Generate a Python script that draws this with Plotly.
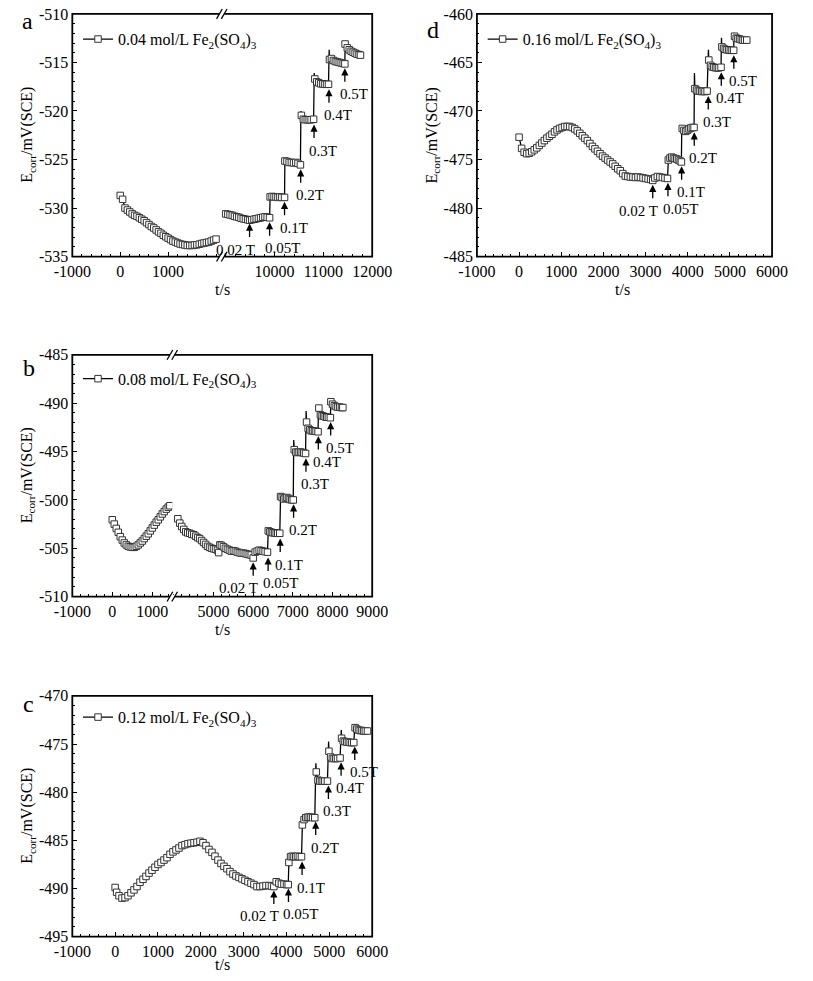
import plotly.graph_objects as go

FONT = "Liberation Serif"
W, H = 813, 981

# ---------------- data ----------------
# Panel a : 0.04 mol/L Fe2(SO4)3  (broken time axis)
t_a1 = [0, 50, 100, 150, 200, 250, 300, 350, 400, 450, 500, 550, 600, 650, 700, 750, 800, 850, 900, 950,
        1000, 1050, 1100, 1150, 1200, 1250, 1300, 1350, 1400, 1450, 1500, 1550, 1600, 1650, 1700, 1750,
        1800, 1850, 1900, 1950, 2000]
e_a1 = [-528.7, -529.1, -530.0, -530.2, -530.4, -530.6, -530.75, -530.85, -531.0, -531.15, -531.3, -531.5,
        -531.7, -531.9, -532.05, -532.25, -532.45, -532.6, -532.8, -532.95, -533.1, -533.25, -533.4, -533.5,
        -533.6, -533.7, -533.75, -533.8, -533.85, -533.85, -533.85, -533.8, -533.78, -533.72, -533.65,
        -533.6, -533.55, -533.5, -533.4, -533.3, -533.2]
t_a2 = [9000, 9045, 9090, 9135, 9180, 9225, 9270, 9315, 9360, 9405, 9450, 9490, 9535, 9580, 9625, 9670,
        9715, 9760, 9805, 9850, 9899,
        9910, 9950, 9990, 10030, 10070, 10110, 10150, 10205,
        10212, 10255, 10300, 10345, 10390, 10435, 10480, 10530,
        10550, 10590, 10630, 10670, 10710, 10750, 10800,
        10825, 10865, 10905, 10945, 10985, 11025, 11065, 11105,
        11125, 11165, 11205, 11245, 11285, 11325, 11365, 11405, 11440,
        11445, 11490, 11530, 11570, 11610, 11650, 11690, 11730, 11760]
e_a2 = [-530.6, -530.65, -530.7, -530.75, -530.85, -530.9, -530.95, -531.05, -531.1, -531.15, -531.2,
        -531.25, -531.2, -531.15, -531.1, -531.05, -531.0, -530.95, -530.9, -530.95, -531.0,
        -528.85, -528.8, -528.85, -528.85, -528.9, -528.85, -528.9, -528.9,
        -525.15, -525.2, -525.3, -525.3, -525.35, -525.3, -525.4, -525.55,
        -520.45, -520.85, -520.9, -520.9, -520.9, -520.9, -520.85,
        -516.7, -517.0, -517.1, -517.2, -517.2, -517.25, -517.25, -517.25,
        -514.7, -514.6, -514.8, -514.9, -514.95, -515.0, -515.05, -515.1, -515.15,
        -513.1, -513.5, -513.7, -513.85, -513.95, -514.05, -514.15, -514.2, -514.25]
spike_t_a = [10540, 10813, 11119]
spike_e_a = [-520.0, -516.1, -513.7]
arrow_t_a = [9489, 9899, 10205, 10536, 10809, 11115, 11440]
arrow_e_a = [-531.6, -531.45, -529.35, -526.0, -521.4, -517.75, -515.6]

# Panel b : 0.08 mol/L Fe2(SO4)3  (broken time axis)
t_b1 = [0, 50, 100, 150, 200, 250, 300, 350, 400, 450, 500, 550, 600, 650, 700, 750, 800, 850, 900, 950,
        1000, 1050, 1100, 1150, 1200, 1250, 1300, 1350, 1400, 1440]
e_b1 = [-502.05, -502.5, -502.95, -503.35, -503.8, -504.15, -504.45, -504.65, -504.8, -504.85, -504.9,
        -504.9, -504.8, -504.65, -504.45, -504.25, -504.0, -503.75, -503.5, -503.2, -502.9, -502.6, -502.3,
        -502.05, -501.75, -501.45, -501.2, -500.95, -500.75, -500.6]
t_b2 = [4100, 4150, 4200, 4250, 4300, 4350, 4400, 4450, 4500, 4550, 4600, 4650, 4700, 4750, 4800, 4850,
        4900, 4950, 5000, 5050, 5100, 5130, 5160, 5200, 5250, 5300, 5350, 5400, 5450, 5500, 5550, 5600,
        5650, 5700, 5750, 5800, 5850, 5900, 5950, 6000, 6050, 6100, 6150, 6200, 6250, 6300, 6360,
        6380, 6420, 6460, 6500, 6540, 6580, 6620, 6670,
        6690, 6730, 6770, 6810, 6850, 6890, 6930, 6970, 7010,
        7035, 7075, 7115, 7155, 7195, 7235, 7275, 7320,
        7345, 7385, 7425, 7465, 7505, 7545, 7585, 7635,
        7655, 7695, 7735, 7775, 7815, 7855, 7895, 7945,
        7958, 8000, 8045, 8090, 8135, 8180, 8225, 8260]
e_b2 = [-501.95, -502.4, -502.75, -503.05, -503.3, -503.4, -503.45, -503.55, -503.6, -503.75, -503.9,
        -504.0, -504.2, -504.4, -504.6, -504.8, -504.9, -505.0, -505.05, -505.1, -505.2, -505.45, -504.65,
        -504.7, -504.85, -505.0, -505.1, -505.2, -505.3, -505.25, -505.3, -505.4, -505.45, -505.5, -505.5,
        -505.55, -505.6, -505.65, -505.7, -506.0, -505.4, -505.3, -505.2, -505.25, -505.3, -505.35, -505.4,
        -503.2, -503.3, -503.35, -503.4, -503.4, -503.45, -503.45, -503.45,
        -499.65, -499.75, -499.9, -499.8, -499.75, -499.85, -499.95, -500.0, -500.0,
        -494.8, -495.05, -495.1, -495.05, -495.05, -495.1, -495.15, -495.2,
        -491.95, -492.6, -492.75, -492.85, -492.85, -492.9, -492.9, -492.95,
        -490.5, -491.2, -491.3, -491.35, -491.4, -491.45, -491.45, -491.5,
        -489.85, -490.1, -490.25, -490.35, -490.4, -490.4, -490.45, -490.45]
spike_t_b = [7022, 7334, 7646]
spike_e_b = [-493.8, -490.8, -490.25]
arrow_t_b = [6000, 6376, 6681, 7018, 7330, 7642, 7953]
arrow_e_b = [-506.45, -505.95, -504.0, -500.45, -495.7, -493.4, -491.95]

# Panel c : 0.12 mol/L Fe2(SO4)3
t_c = [0, 35, 90, 160, 230, 300, 370, 440, 510, 580, 650, 720, 790, 860, 930, 1000, 1070, 1140, 1210,
       1280, 1350, 1420, 1490, 1560, 1630, 1700, 1770, 1840, 1910, 1980, 2050, 2120, 2190, 2260, 2330,
       2400, 2470, 2540, 2610, 2680, 2750, 2820, 2890, 2960, 3030, 3100, 3170, 3240, 3310, 3380, 3450,
       3520, 3590, 3650, 3704, 3760, 3820, 3880, 3940, 4000, 4040,
       4055, 4095, 4135, 4175, 4215, 4255, 4300, 4350,
       4370, 4410, 4450, 4490, 4530, 4570, 4610, 4660,
       4695, 4735, 4775, 4815, 4855, 4895, 4955,
       4990, 5030, 5070, 5110, 5150, 5190, 5250,
       5285, 5325, 5365, 5405, 5445, 5485, 5525, 5570,
       5600, 5640, 5680, 5720, 5760, 5800, 5840, 5890]
e_c = [-489.9, -490.4, -490.75, -491.0, -490.95, -490.75, -490.45, -490.15, -489.8, -489.35, -489.05,
       -488.75, -488.4, -488.1, -487.8, -487.5, -487.3, -487.05, -486.8, -486.45, -486.2, -486.0, -485.8,
       -485.55, -485.45, -485.35, -485.3, -485.25, -485.2, -485.1, -485.25, -485.55, -485.95, -486.25,
       -486.65, -487.05, -487.4, -487.7, -487.95, -488.25, -488.5, -488.7, -488.85, -489.0, -489.15,
       -489.3, -489.45, -489.6, -489.8, -489.8, -489.75, -489.7, -489.7, -489.75, -489.8, -489.3, -489.45,
       -489.55, -489.55, -489.6, -489.6,
       -487.3, -486.7, -486.65, -486.7, -486.7, -486.65, -486.7, -486.7,
       -483.4, -482.85, -482.65, -482.6, -482.6, -482.6, -482.65, -482.65,
       -477.9, -478.75, -478.85, -478.85, -478.85, -478.85, -478.85,
       -475.75, -476.35, -476.5, -476.5, -476.5, -476.5, -476.45,
       -474.4, -474.7, -474.75, -474.8, -474.8, -474.85, -474.85, -474.85,
       -473.3, -473.45, -473.55, -473.6, -473.6, -473.65, -473.65, -473.65]
spike_t_c = [4685, 4982, 5278, 5597]
spike_e_c = [-477.0, -474.75, -473.55, -472.95]
arrow_t_c = [3704, 4045, 4363, 4681, 4978, 5274, 5593]
arrow_e_c = [-490.2, -490.0, -487.2, -483.05, -479.3, -476.9, -475.25]

# Panel d : 0.16 mol/L Fe2(SO4)3
t_d = [0, 60, 120, 180, 240, 300, 360, 420, 480, 540, 600, 660, 720, 780, 840, 900, 960, 1020, 1080,
       1140, 1200, 1260, 1320, 1380, 1440, 1500, 1560, 1620, 1680, 1740, 1800, 1860, 1920, 1980, 2040,
       2100, 2160, 2220, 2280, 2340, 2400, 2460, 2520, 2580, 2640, 2700, 2760, 2820, 2880, 2940, 3000,
       3060, 3120, 3170, 3220, 3280, 3340, 3400, 3460, 3520,
       3540, 3580, 3620, 3660, 3700, 3740, 3780, 3820, 3850,
       3870, 3910, 3950, 3990, 4030, 4070, 4110, 4150,
       4170, 4210, 4250, 4290, 4330, 4370, 4410, 4460,
       4500, 4540, 4580, 4620, 4660, 4700, 4740, 4790,
       4810, 4850, 4890, 4930, 4970, 5010, 5050, 5090,
       5110, 5150, 5190, 5230, 5270, 5310, 5350, 5400]
e_d = [-472.7, -473.85, -474.25, -474.4, -474.35, -474.2, -474.0, -473.8, -473.55, -473.3, -473.05,
       -472.8, -472.6, -472.4, -472.15, -471.95, -471.8, -471.7, -471.6, -471.6, -471.6, -471.7, -471.85,
       -472.05, -472.3, -472.55, -472.8, -473.05, -473.35, -473.65, -473.9, -474.15, -474.4, -474.65,
       -474.85, -475.05, -475.25, -475.45, -475.7, -475.95, -476.15, -476.45, -476.7, -476.75, -476.8,
       -476.8, -476.85, -476.8, -476.85, -476.9, -476.95, -477.0, -477.05, -477.15, -476.9, -476.75,
       -476.8, -476.85, -476.9, -476.95,
       -475.05, -474.85, -474.75, -474.85, -474.9, -474.95, -475.05, -475.15, -475.25,
       -471.8, -472.0, -472.1, -472.0, -471.85, -471.75, -471.7, -471.7,
       -467.7, -467.85, -467.95, -467.95, -468.0, -467.95, -468.0, -467.95,
       -464.75, -465.3, -465.45, -465.5, -465.55, -465.55, -465.55, -465.5,
       -463.4, -463.55, -463.65, -463.7, -463.7, -463.75, -463.75, -463.75,
       -462.3, -462.5, -462.55, -462.6, -462.65, -462.7, -462.7, -462.7]
spike_t_d = [3859, 4159, 4491, 4800, 5097]
spike_e_d = [-471.5, -466.1, -463.7, -462.45, -461.95]
arrow_t_d = [3170, 3531, 3855, 4155, 4487, 4796, 5093]
arrow_e_d = [-477.6, -477.4, -475.7, -472.2, -468.45, -466.0, -464.25]

arrow_labels = ["0.02 T", "0.05T", "0.1T", "0.2T", "0.3T", "0.4T", "0.5T"]
series_names = ["0.04 mol/L Fe<sub>2</sub>(SO<sub>4</sub>)<sub>3</sub>",
                "0.08 mol/L Fe<sub>2</sub>(SO<sub>4</sub>)<sub>3</sub>",
                "0.12 mol/L Fe<sub>2</sub>(SO<sub>4</sub>)<sub>3</sub>",
                "0.16 mol/L Fe<sub>2</sub>(SO<sub>4</sub>)<sub>3</sub>"]
panel_letters = ["a", "b", "c", "d"]

yticks_a = [-535, -530, -525, -520, -515, -510]
yticks_b = [-510, -505, -500, -495, -490, -485]
yticks_c = [-495, -490, -485, -480, -475, -470]
yticks_d = [-485, -480, -475, -470, -465, -460]
xticks_a1 = [-1000, 0, 1000]
xticks_a2 = [10000, 11000, 12000]
xticks_b1 = [-1000, 0, 1000]
xticks_b2 = [5000, 6000, 7000, 8000, 9000]
xticks_cd = [-1000, 0, 1000, 2000, 3000, 4000, 5000, 6000]


# ---------------- helpers ----------------
def fx(p):
    return p / W


def fy(p):
    return 1 - p / H


def merged(t, e, st, se):
    pts = sorted(zip(list(t) + list(st), list(e) + list(se)))
    return [p[0] for p in pts], [p[1] for p in pts]


fig = go.Figure()

MARK = dict(symbol="square", size=6.5, color="white", line=dict(color="#333", width=1))
LINE = dict(color="black", width=1.3)


def add_series(t, e, st, se, xa, ya):
    lt, le = merged(t, e, st, se)
    fig.add_trace(go.Scatter(x=lt, y=le, mode="lines", line=LINE, xaxis=xa, yaxis=ya,
                             showlegend=False, hoverinfo="skip"))
    fig.add_trace(go.Scatter(x=t, y=e, mode="markers", marker=MARK, xaxis=xa, yaxis=ya,
                             showlegend=False))


add_series(t_a1, e_a1, [], [], "x", "y")
add_series(t_a2, e_a2, spike_t_a, spike_e_a, "x2", "y")
add_series(t_b1, e_b1, [], [], "x3", "y2")
add_series(t_b2, e_b2, spike_t_b, spike_e_b, "x4", "y2")
add_series(t_c, e_c, spike_t_c, spike_e_c, "x5", "y3")
add_series(t_d, e_d, spike_t_d, spike_e_d, "x6", "y4")

legend_ids = ["legend", "legend2", "legend3", "legend4"]
legend_axes = [("x", "y"), ("x3", "y2"), ("x5", "y3"), ("x6", "y4")]
for name, lid, (xa, ya) in zip(series_names, legend_ids, legend_axes):
    fig.add_trace(go.Scatter(x=[None], y=[None], mode="lines+markers", name=name, line=LINE,
                             marker=MARK, xaxis=xa, yaxis=ya, legend=lid, showlegend=True))

# ---------------- axes ----------------
TICKFONT = dict(family=FONT, size=16, color="black")


def xax(domain, rng, vals, anchor):
    return dict(domain=[fx(domain[0]), fx(domain[1])], range=rng, anchor=anchor,
                tickmode="array", tickvals=vals, ticktext=[str(v) for v in vals],
                ticks="inside", ticklen=5, tickwidth=1.3, tickcolor="black", ticklabelstandoff=3,
                minor=dict(ticks="inside", ticklen=2.5, tickwidth=1, tickcolor="black", dtick=200, tick0=0),
                showline=False, showgrid=False, zeroline=False, tickfont=TICKFONT)


def yax(domain, rng, vals, anchor):
    return dict(domain=[fy(domain[1]), fy(domain[0])], range=rng, anchor=anchor,
                tickmode="array", tickvals=vals, ticktext=[str(v) for v in vals],
                ticks="inside", ticklen=5, tickwidth=1.3, tickcolor="black", ticklabelstandoff=3,
                minor=dict(ticks="inside", ticklen=2.5, tickwidth=1, tickcolor="black", dtick=1, tick0=0),
                showline=False, showgrid=False, zeroline=False, tickfont=TICKFONT)


# panel boxes (pixel positions)
A = dict(x0=56, x1=371, brk=213, y0=6, y1=253)
B = dict(x0=56, x1=371, brk=161, y0=353, y1=599)
C = dict(x0=56, x1=371, y0=700, y1=945)
D = dict(x0=481, x1=791, y0=6, y1=253)

fig.update_layout(
    xaxis=xax((A["x0"], A["brk"]), [-1000, 2120], xticks_a1, "y"),
    xaxis2=xax((A["brk"], A["x1"]), [8920, 12000], xticks_a2, "y"),
    yaxis=yax((A["y0"], A["y1"]), [-535, -510], yticks_a, "x"),
    xaxis3=xax((B["x0"], B["brk"]), [-1000, 1500], xticks_b1, "y2"),
    xaxis4=xax((B["brk"], B["x1"]), [3960, 9000], xticks_b2, "y2"),
    yaxis2=yax((B["y0"], B["y1"]), [-510, -485], yticks_b, "x3"),
    xaxis5=xax((C["x0"], C["x1"]), [-1000, 6000], xticks_cd, "y3"),
    yaxis3=yax((C["y0"], C["y1"]), [-495, -470], yticks_c, "x5"),
    xaxis6=xax((D["x0"], D["x1"]), [-1000, 6000], xticks_cd, "y4"),
    yaxis4=yax((D["y0"], D["y1"]), [-485, -460], yticks_d, "x6"),
)

# ---------------- legends ----------------
LEGFONT = dict(family=FONT, size=16, color="black")
leg_pos = [(62, 31.7), (62, 377.3), (62, 721.7), (487, 31.7)]
for lid, (lx, ly) in zip(legend_ids, leg_pos):
    fig.update_layout({lid: dict(x=fx(lx), y=fy(ly), xanchor="left", yanchor="middle",
                                 font=LEGFONT, bgcolor="rgba(0,0,0,0)", borderwidth=0)})

# ---------------- shapes: frames and axis breaks ----------------
shapes = []
for P in (A, B, C, D):
    shapes.append(dict(type="rect", xref="paper", yref="paper", x0=fx(P["x0"]), x1=fx(P["x1"]),
                       y0=fy(P["y1"]), y1=fy(P["y0"]), line=dict(color="black", width=1.8),
                       layer="above"))
for P in (A, B):
    bx = P["brk"]
    for yy in (P["y0"], P["y1"]):
        shapes.append(dict(type="rect", xref="paper", yref="paper", x0=fx(bx - 2.5), x1=fx(bx + 2.5),
                           y0=fy(yy + 2), y1=fy(yy - 2), fillcolor="white", line=dict(width=0),
                           layer="above"))
        for off in (-2.5, 2.5):
            shapes.append(dict(type="line", xref="paper", yref="paper",
                               x0=fx(bx + off - 3), y0=fy(yy + 5), x1=fx(bx + off + 3), y1=fy(yy - 5),
                               line=dict(color="black", width=1.3), layer="above"))
fig.update_layout(shapes=shapes)

# ---------------- annotations ----------------
ann = []
ARROW_LEN = 15
LBLFONT = dict(family=FONT, size=15, color="black")


def add_arrows(ts, es, xa, ya):
    for t, e, lbl in zip(ts, es, arrow_labels):
        ann.append(dict(x=t, y=e, xref=xa, yref=ya, text="", showarrow=True, ax=0, ay=ARROW_LEN,
                        arrowhead=2, arrowsize=1.1, arrowwidth=1.3, arrowcolor="black", standoff=0))
        if lbl.endswith(" T"):
            ann.append(dict(x=t, y=e, xref=xa, yref=ya, text=lbl, showarrow=False, xanchor="right",
                            yanchor="top", xshift=7, yshift=-(ARROW_LEN + 1), font=LBLFONT))
        else:
            ann.append(dict(x=t, y=e, xref=xa, yref=ya, text=lbl, showarrow=False, xanchor="left",
                            yanchor="top", xshift=-7, yshift=-(ARROW_LEN + 1), font=LBLFONT))


add_arrows(arrow_t_a, arrow_e_a, "x2", "y")
add_arrows(arrow_t_b, arrow_e_b, "x4", "y2")
add_arrows(arrow_t_c, arrow_e_c, "x5", "y3")
add_arrows(arrow_t_d, arrow_e_d, "x6", "y4")

TITLEFONT = dict(family=FONT, size=16, color="black")
ytitle = "E<sub>corr</sub>/mV(SCE)"
for (xp, yp) in [(9, 129.5), (9, 476), (9, 822.5), (434, 129.5)]:
    ann.append(dict(x=fx(xp), y=fy(yp), xref="paper", yref="paper", text=ytitle, textangle=-90,
                    showarrow=False, xanchor="center", yanchor="middle", font=TITLEFONT))
for (xp, yp) in [(213.5, 286), (213.5, 632), (213.5, 973), (634, 286)]:
    ann.append(dict(x=fx(xp), y=fy(yp), xref="paper", yref="paper", text="t/s",
                    showarrow=False, xanchor="center", yanchor="middle", font=TITLEFONT))
for lt, (xp, yp) in zip(panel_letters, [(9, 13), (11, 366), (10, 708), (435, 22)]):
    ann.append(dict(x=fx(xp), y=fy(yp), xref="paper", yref="paper", text=lt,
                    showarrow=False, xanchor="center", yanchor="middle",
                    font=dict(family=FONT, size=24, color="black")))
fig.update_layout(annotations=ann)

fig.update_layout(width=W, height=H, margin=dict(l=0, r=0, t=0, b=0),
                  paper_bgcolor="white", plot_bgcolor="white", hovermode=False)

fig.write_html("out.html", config={"displayModeBar": False},
               post_script="document.body.style.margin='0';document.body.style.overflow='hidden';")
